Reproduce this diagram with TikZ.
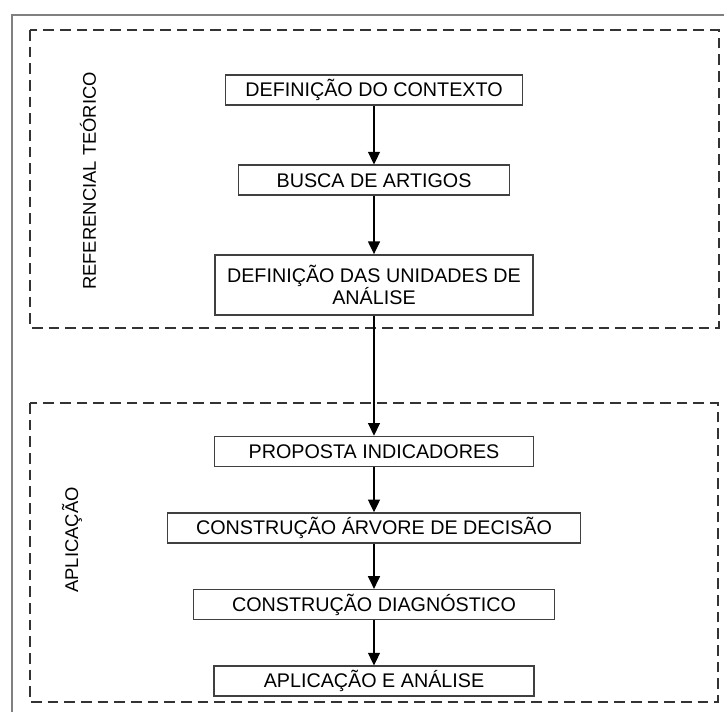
\documentclass[tikz,border=0pt]{standalone}
\usepackage{fontspec}
\setmainfont{Liberation Sans}
\usetikzlibrary{positioning,arrows.meta}
\tikzset{
etapa/.style={
rectangle,
minimum height=22.5pt,
inner sep=0pt,
text centered,
align=center,
draw=black!75,
line width=1.2pt,
font=\fontsize{14.8}{16.5}\selectfont
},
seta/.style={
line width=0.9pt,
-{Triangle[width=9pt,length=9.5pt]}
},
grupo/.style={
draw=black!80,
line width=1.3pt,
dash pattern=on 8pt off 4.5pt
},
rotulo/.style={
rotate=90,
font=\fontsize{13.8}{15}\selectfont
}
}

\begin{document}
\begin{tikzpicture}[x=0.75pt,y=-0.75pt]
\useasboundingbox (0,0) rectangle (724,711);
%Moldura
\draw[gray,line width=1.5pt] (12,720) -- (12,15) -- (730,15);
%Grupos
\draw[grupo] (30,30) rectangle (719,328);
\draw[grupo] (30,403) rectangle (718,702);
\node[rotulo] (lblref) at (88,181) {REFERENCIAL TEÓRICO};
\node[rotulo] (lblapl) at (72,540) {APLICAÇÃO};
%Nodes
\node[etapa,minimum width=222.75pt] (contexto) at (374,90) {DEFINIÇÃO DO CONTEXTO};
\node[etapa,minimum width=203.25pt,below=44pt of contexto] (busca) {BUSCA DE ARTIGOS};
\node[etapa,minimum width=238.5pt,minimum height=45pt,below=43.5pt of busca] (unidades) {DEFINIÇÃO DAS UNIDADES DE\\ANÁLISE};
\node[etapa,minimum width=239.25pt,below=90pt of unidades] (indicadores) {PROPOSTA INDICADORES};
\node[etapa,minimum width=309.75pt,below=33.75pt of indicadores] (arvore) {CONSTRUÇÃO ÁRVORE DE DECISÃO};
\node[etapa,minimum width=270.75pt,below=33.75pt of arvore] (diagnostico) {CONSTRUÇÃO DIAGNÓSTICO};
\node[etapa,minimum width=240pt,below=33.75pt of diagnostico] (analise) {APLICAÇÃO E ANÁLISE};
%Arrows
\draw[seta] (contexto.south) -- (busca.north);
\draw[seta] (busca.south) -- (unidades.north);
\draw[seta] (unidades.south) -- (indicadores.north);
\draw[seta] (indicadores.south) -- (arvore.north);
\draw[seta] (arvore.south) -- (diagnostico.north);
\draw[seta] (diagnostico.south) -- (analise.north);
\end{tikzpicture}
\end{document}
